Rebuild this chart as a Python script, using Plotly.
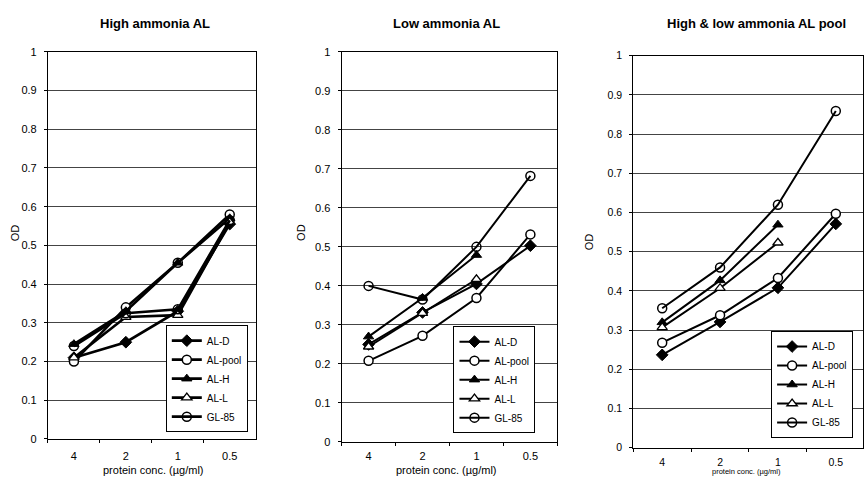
import plotly.graph_objects as go

W, H = 864, 484
FONT = "Liberation Sans, Arial, sans-serif"

categories = ["4", "2", "1", "0.5"]
series_names = ["AL-D", "AL-pool", "AL-H", "AL-L", "GL-85"]
panel_titles = ["High ammonia AL", "Low ammonia AL", "High &amp; low ammonia AL pool"]
y_ticks = [0, 0.1, 0.2, 0.3, 0.4, 0.5, 0.6, 0.7, 0.8, 0.9, 1]
x_axis_title = "protein conc. (µg/ml)"
y_axis_title = "OD"

# Panel 1: High ammonia AL
high_al_d = [0.21, 0.25, 0.33, 0.555]
high_al_pool = [0.20, 0.34, 0.455, 0.58]
high_al_h = [0.245, 0.33, 0.455, 0.57]
high_al_l = [0.21, 0.315, 0.32, 0.56]
high_gl85 = [0.24, 0.325, 0.335, 0.565]

# Panel 2: Low ammonia AL
low_al_d = [0.25, 0.332, 0.405, 0.503]
low_al_pool = [0.208, 0.272, 0.369, 0.532]
low_al_h = [0.27, 0.369, 0.479, None]
low_al_l = [0.244, 0.33, 0.417, None]
low_gl85 = [0.40, 0.365, 0.50, 0.682]

# Panel 3: High & low ammonia AL pool
pool_al_d = [0.237, 0.321, 0.408, 0.571]
pool_al_pool = [0.268, 0.338, 0.433, 0.597]
pool_al_h = [0.32, 0.427, 0.569, None]
pool_al_l = [0.307, 0.407, 0.523, None]
pool_gl85 = [0.356, 0.46, 0.62, 0.859]

panels = [
    [high_al_d, high_al_pool, high_al_h, high_al_l, high_gl85],
    [low_al_d, low_al_pool, low_al_h, low_al_l, low_gl85],
    [pool_al_d, pool_al_pool, pool_al_h, pool_al_l, pool_gl85],
]

marker_styles = {
    "AL-D": dict(symbol="diamond", color="black", size=9, line=dict(color="black", width=1)),
    "AL-pool": dict(symbol="circle", color="white", size=9, line=dict(color="black", width=1.5)),
    "AL-H": dict(symbol="triangle-up", color="black", size=9, line=dict(color="black", width=1)),
    "AL-L": dict(symbol="triangle-up", color="white", size=9, line=dict(color="black", width=1.3)),
    "GL-85": dict(symbol="circle-open", color="black", size=9, line=dict(color="black", width=1.5)),
}

# pixel geometry of plot areas: (left, right, y_of_1, y_of_0)
geom = [(48, 256, 47, 444), (342, 558, 47, 447), (634, 864, 51, 453)]
line_widths = [2.6, 2.0, 2.0]
xranges = [[-0.5, 3.5], [-0.5, 3.5], [-0.5, 3.47]]
legend_boxes = [(166, 437), (454, 438), (772, 443)]
title_pos = [(155, 18), (447, 18), (757, 18)]
ytitle_pos = [(15, 232), (302, 232), (590, 242)]
xtitle_x = [153, 447, 747]
xtitle_size = [11, 11, 7.5]
tick_standoff = [7, 4, 5]
tick_size = [11, 11, 10.5]

fig = go.Figure()
layout = dict(
    width=W, height=H, autosize=False,
    margin=dict(l=0, r=0, t=0, b=0),
    paper_bgcolor="white", plot_bgcolor="white",
    font=dict(family=FONT, size=11, color="black"),
    annotations=[],
)

for i, (data, g) in enumerate(zip(panels, geom)):
    n = i + 1
    xa = "x" if n == 1 else f"x{n}"
    ya = "y" if n == 1 else f"y{n}"
    lg = "legend" if n == 1 else f"legend{n}"
    for name, vals in zip(series_names, data):
        fig.add_trace(go.Scatter(
            x=categories, y=vals, name=name, mode="lines+markers",
            xaxis=xa, yaxis=ya, legend=lg,
            line=dict(color="black", width=line_widths[i]),
            marker=marker_styles[name],
            connectgaps=False,
        ))
    left, right, ytop, ybot = g
    layout[f"xaxis{'' if n == 1 else n}"] = dict(
        domain=[left / W, min(right / W, 1.0)],
        anchor=ya, type="category", range=xranges[i],
        showline=True, mirror=True, linecolor="black", linewidth=1,
        ticks="outside", ticklen=3, tickcolor="black", tickson="boundaries",
        showgrid=False, zeroline=False,
        tickfont=dict(family=FONT, size=tick_size[i], color="black"),
        ticklabelstandoff=tick_standoff[i],
    )
    layout[f"yaxis{'' if n == 1 else n}"] = dict(
        domain=[(H - ybot) / H, (H - ytop) / H],
        anchor=xa, range=[0, 1], tickvals=y_ticks,
        ticktext=[f"{v:g}" for v in y_ticks],
        showline=True, mirror=True, linecolor="black", linewidth=1,
        ticks="outside", ticklen=3, tickcolor="black",
        showgrid=True, gridcolor="#444444", gridwidth=1, zeroline=False,
        tickfont=dict(family=FONT, size=tick_size[i], color="black"),
        ticklabelstandoff=5,
    )
    lx, lyb = legend_boxes[i]
    layout[lg] = dict(
        x=lx / W, y=(H - lyb) / H, xanchor="left", yanchor="bottom",
        bgcolor="white", bordercolor="black", borderwidth=1,
        font=dict(family=FONT, size=10, color="black"),
        tracegroupgap=0, itemwidth=30,
    )
    tx, ty = title_pos[i]
    layout["annotations"].append(dict(
        text=f"<b>{panel_titles[i]}</b>", x=tx / W, y=1 - ty / H,
        xref="paper", yref="paper", showarrow=False,
        xanchor="center", yanchor="middle",
        font=dict(family=FONT, size=13, color="black"),
    ))
    yx, yy = ytitle_pos[i]
    layout["annotations"].append(dict(
        text=y_axis_title, x=yx / W, y=1 - yy / H,
        xref="paper", yref="paper", showarrow=False, textangle=-90,
        xanchor="center", yanchor="middle",
        font=dict(family=FONT, size=11, color="black"),
    ))
    layout["annotations"].append(dict(
        text=x_axis_title, x=xtitle_x[i] / W, y=0,
        xref="paper", yref="paper", showarrow=False,
        xanchor="center", yanchor="bottom",
        font=dict(family=FONT, size=xtitle_size[i], color="black"),
    ))

fig.update_layout(**layout)
fig.write_html("out.html")
